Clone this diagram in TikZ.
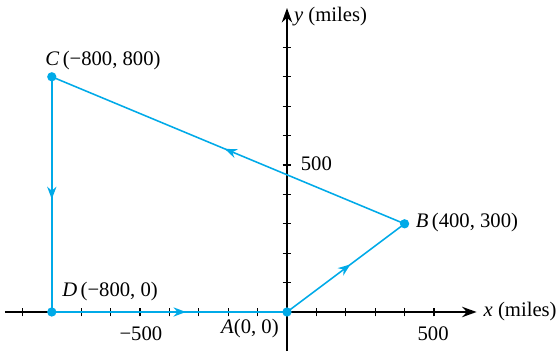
\documentclass[tikz,border=0pt]{standalone}
\usepackage{fontspec}
\setmainfont{Liberation Serif}
\usetikzlibrary{arrows.meta,decorations.markings}
\definecolor{routeblue}{RGB}{0,170,232}

\begin{document}
\begin{tikzpicture}[x=0.5cm, y=0.5cm,
    axis/.style={line width=0.9pt, -{Stealth[length=7pt,width=5pt]}},
    tick/.style={line width=0.6pt},
    leg/.style={routeblue, line width=0.75pt, postaction={decorate},
        decoration={markings, mark=at position #1 with {\arrow{Stealth[length=6pt,width=4.5pt]}}}},
    dot/.style={circle, fill=routeblue, inner sep=0pt, minimum size=4.5pt},
    lbl/.style={font=\normalsize, inner sep=1pt}
]
    \useasboundingbox (-9.762,-1.361) rectangle (9.184,10.612);

    % axes
    \coordinate (xl) at (-9.6,0);
    \coordinate (xr) at (6.45,0);
    \coordinate (yb) at (0,-1.33);
    \coordinate (yt) at (0,10.34);
    \draw[axis] (xl) -- (xr) node[right, lbl, xshift=2pt]{\textit{x} (miles)};
    \draw[axis] (yb) -- (yt) node[right, lbl, xshift=2pt, yshift=-4pt]{\textit{y} (miles)};
    \foreach \t in {-9,...,-1,1,2,...,5}
        \draw[tick] (\t,-0.15) -- (\t,0.15);
    \foreach \t in {1,...,9}
        \draw[tick] (-0.15,\t) -- (0.15,\t);
    \node[lbl] (m500)  at (-4.97,-0.74) {−500};
    \node[lbl] (p500)  at (4.97,-0.74)  {500};
    \node[lbl] (y500)  at (1.0,5.05)    {500};

    % route
    \coordinate (A) at (0,0);
    \coordinate (B) at (4,3);
    \coordinate (C) at (-8,8);
    \coordinate (D) at (-8,0);
    \draw[leg=0.54] (A) -- (B);
    \draw[leg=0.51] (B) -- (C);
    \draw[leg=0.52] (C) -- (D);
    \draw[leg=0.57] (D) -- (A);
    \foreach \p in {A,B,C,D}
        \node[dot] at (\p) {};

    \node[lbl] (Clbl) at (-6.26,8.57) {\textit{C}\,(−800, 800)};
    \node[lbl] (Dlbl) at (-6.02,0.68) {\textit{D}\,(−800, 0)};
    \node[lbl] (Albl) at (-1.26,-0.56) {\textit{A}(0, 0)};
    \node[lbl] (Blbl) at (6.12,3.03)  {\textit{B}\,(400, 300)};
\end{tikzpicture}
\end{document}
